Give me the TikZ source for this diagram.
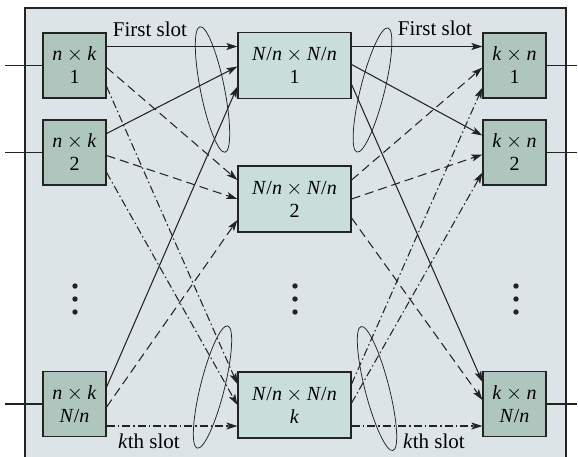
\documentclass[tikz,border=0pt]{standalone}
\usepackage{fontspec}
\setmainfont{Liberation Serif}
\usetikzlibrary{arrows.meta}
\definecolor{bgc}{RGB}{220,228,232}
\definecolor{outerc}{RGB}{174,198,190}
\definecolor{innerc}{RGB}{201,221,219}
\definecolor{lnc}{RGB}{35,35,35}
\newcommand{\tms}{\hspace{0.22em}$\times$\hspace{0.22em}}
\begin{document}
\begin{tikzpicture}[x=1pt,y=-1pt,
  box/.style={draw=lnc, line width=1.2pt, inner sep=0pt, align=center, font=\fontsize{20}{23}\selectfont},
  sbox/.style={box, fill=outerc, minimum width=63pt, minimum height=65pt},
  mbox/.style={box, fill=innerc, minimum width=113pt, minimum height=66pt},
  conn/.style={draw=lnc, line width=1.05pt, -{Stealth[length=11pt,width=7pt,inset=2.5pt]}},
  dsh/.style={conn, dash pattern=on 9pt off 5pt},
  dd/.style={conn, dash pattern=on 8pt off 3pt on 1.5pt off 3pt},
  lbl/.style={font=\fontsize{21}{24}\selectfont, inner sep=0pt, anchor=base},
  ell/.style={draw=lnc, line width=0.75pt},
  io/.style={draw=lnc, line width=1.2pt},
]
\useasboundingbox (0,0) rectangle (578,456);
\draw[fill=bgc, draw=lnc, line width=1.3pt] (25,8) rectangle (566,470);

% left boxes
\node[sbox] (L1) at (74.5,65.5) {\textit{n}\tms\textit{k}\\1};
\node[sbox] (L2) at (74.5,152.5) {\textit{n}\tms\textit{k}\\2};
\node[sbox] (LN) at (74.5,404) {\textit{n}\tms\textit{k}\\\textit{N}/\textit{n}};
% middle boxes
\node[mbox] (M1) at (294.5,65.5) {\textit{N}/\textit{n}\tms\textit{N}/\textit{n}\\1};
\node[mbox] (M2) at (294.5,199) {\textit{N}/\textit{n}\tms\textit{N}/\textit{n}\\2};
\node[mbox] (Mk) at (294.5,405) {\textit{N}/\textit{n}\tms\textit{N}/\textit{n}\\\textit{k}};
% right boxes
\node[sbox] (R1) at (514.5,65.5) {\textit{k}\tms\textit{n}\\1};
\node[sbox] (R2) at (514.5,152.5) {\textit{k}\tms\textit{n}\\2};
\node[sbox] (RN) at (514.5,404) {\textit{k}\tms\textit{n}\\\textit{N}/\textit{n}};

% inputs / outputs
\coordinate (i1) at (5,65.5);
\coordinate (i2) at (5,152.5);
\coordinate (iN) at (5,404);
\coordinate (o1) at (577,65.5);
\coordinate (o2) at (577,152.5);
\coordinate (oN) at (577,404);
\draw[io] (i1) -- (L1.west);
\draw[io] (i2) -- (L2.west);
\draw[io] (iN) -- (LN.west);
\draw[io] (R1.east) -- (o1);
\draw[io] (R2.east) -- (o2);
\draw[io] (RN.east) -- (oN);

% left -> middle
\draw[conn] ([yshift=19pt]L1.east) -- ([yshift=19pt]M1.west);
\draw[conn] ([yshift=19pt]L2.east) -- ([yshift=-1pt]M1.west);
\draw[conn] ([yshift=17pt]LN.east) -- ([yshift=-21pt]M1.west);
\draw[dsh] ([yshift=-2pt]L1.east) -- ([yshift=19pt]M2.west);
\draw[dsh] ([yshift=-3pt]L2.east) -- ([yshift=0pt]M2.west);
\draw[dsh] ([yshift=-3pt]LN.east) -- ([yshift=-21pt]M2.west);
\draw[dd] ([yshift=-21pt]L1.east) -- ([yshift=21pt]Mk.west);
\draw[dd] ([yshift=-20pt]L2.east) -- ([yshift=0pt]Mk.west);
\draw[dd] ([yshift=-22pt]LN.east) -- ([yshift=-21pt]Mk.west);

% middle -> right
\draw[conn] ([yshift=19pt]M1.east) -- ([yshift=19pt]R1.west);
\draw[conn] ([yshift=1pt]M1.east) -- ([yshift=17pt]R2.west);
\draw[conn] ([yshift=-19pt]M1.east) -- ([yshift=22pt]RN.west);
\draw[dsh] ([yshift=19pt]M2.east) -- ([yshift=-2pt]R1.west);
\draw[dsh] ([yshift=0pt]M2.east) -- ([yshift=-2pt]R2.west);
\draw[dsh] ([yshift=-19pt]M2.east) -- ([yshift=4pt]RN.west);
\draw[dd] ([yshift=21pt]Mk.east) -- ([yshift=-22pt]R1.west);
\draw[dd] ([yshift=2pt]Mk.east) -- ([yshift=-20pt]R2.west);
\draw[dd] ([yshift=-21pt]Mk.east) -- ([yshift=-22pt]RN.west);

% ellipses
\draw[ell, rotate around={11.3:(212.5,89.5)}] (212.5,89.5) ellipse [x radius=12pt, y radius=64pt];
\draw[ell, rotate around={-14:(372.5,90)}] (372.5,90) ellipse [x radius=12pt, y radius=64pt];
\draw[ell, rotate around={-14:(212.5,387)}] (212.5,387) ellipse [x radius=12pt, y radius=63pt];
\draw[ell, rotate around={14.4:(377,388.5)}] (377,388.5) ellipse [x radius=12pt, y radius=64pt];

% dots
\foreach \xx in {75,295,516} {
  \foreach \yy in {286,299,312} {
    \fill[lnc] (\xx,\yy) circle [radius=2.7pt];
  }
}

% labels
\node[lbl] (fs1) at (150,36) {First slot};
\node[lbl] (fs2) at (435,35) {First slot};
\node[lbl] (ks1) at (149,448) {\textit{k}th slot};
\node[lbl] (ks2) at (434,448) {\textit{k}th slot};
\end{tikzpicture}
\end{document}
